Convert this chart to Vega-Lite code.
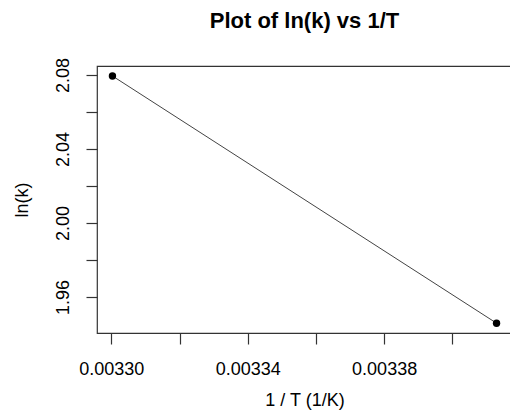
{
  "$schema": "https://vega.github.io/schema/vega-lite/v6.json",
  "autosize": {"type": "none"},
  "padding": {"left": 97, "top": 66, "right": 0, "bottom": 86},
  "width": 415,
  "height": 267,
  "background": "white",
  "title": {
    "text": "Plot of ln(k) vs 1/T",
    "font": "Liberation Sans",
    "fontSize": 22,
    "fontWeight": "bold",
    "color": "black",
    "anchor": "middle",
    "offset": 24
  },
  "config": {
    "view": {"stroke": "#333333", "strokeWidth": 1.2},
    "axis": {
      "grid": false,
      "domain": false,
      "tickColor": "#333333",
      "tickSize": 11,
      "tickWidth": 1.2,
      "labelFont": "Liberation Sans",
      "labelFontSize": 18,
      "labelColor": "black",
      "titleFont": "Liberation Sans",
      "titleFontSize": 18,
      "titleFontWeight": "normal",
      "titleColor": "black"
    }
  },
  "data": {
    "values": [
      {"invT": 0.00330033, "lnk": 2.0794},
      {"invT": 0.00341297, "lnk": 1.9459}
    ]
  },
  "layer": [
    {
      "mark": {"type": "line", "color": "#444444", "strokeWidth": 1},
      "encoding": {
        "x": {
          "field": "invT", "type": "quantitative",
          "scale": {"domain": [0.0032958, 0.0034175], "nice": false, "zero": false},
          "axis": {
            "title": "1 / T (1/K)",
            "values": [0.0033, 0.00332, 0.00334, 0.00336, 0.00338, 0.0034],
            "labelExpr": "round(datum.value*100000) % 4 == 2 ? format(datum.value, '.5f') : ''",
            "labelPadding": 16,
            "titlePadding": 13,
            "labelFlush": false
          }
        },
        "y": {
          "field": "lnk", "type": "quantitative",
          "scale": {"domain": [1.9406, 2.0848], "nice": false, "zero": false},
          "axis": {
            "title": "ln(k)",
            "values": [1.96, 1.98, 2.0, 2.02, 2.04, 2.06, 2.08],
            "labelExpr": "round(datum.value*100) % 4 == 0 ? format(datum.value, '.2f') : ''",
            "labelAngle": -90,
            "labelAlign": "center",
            "labelBaseline": "bottom",
            "labelPadding": 14,
            "titlePadding": 23,
            "labelFlush": false
          }
        }
      }
    },
    {
      "mark": {"type": "point", "filled": true, "color": "black", "size": 55, "opacity": 1},
      "encoding": {
        "x": {"field": "invT", "type": "quantitative"},
        "y": {"field": "lnk", "type": "quantitative"}
      }
    }
  ]
}
